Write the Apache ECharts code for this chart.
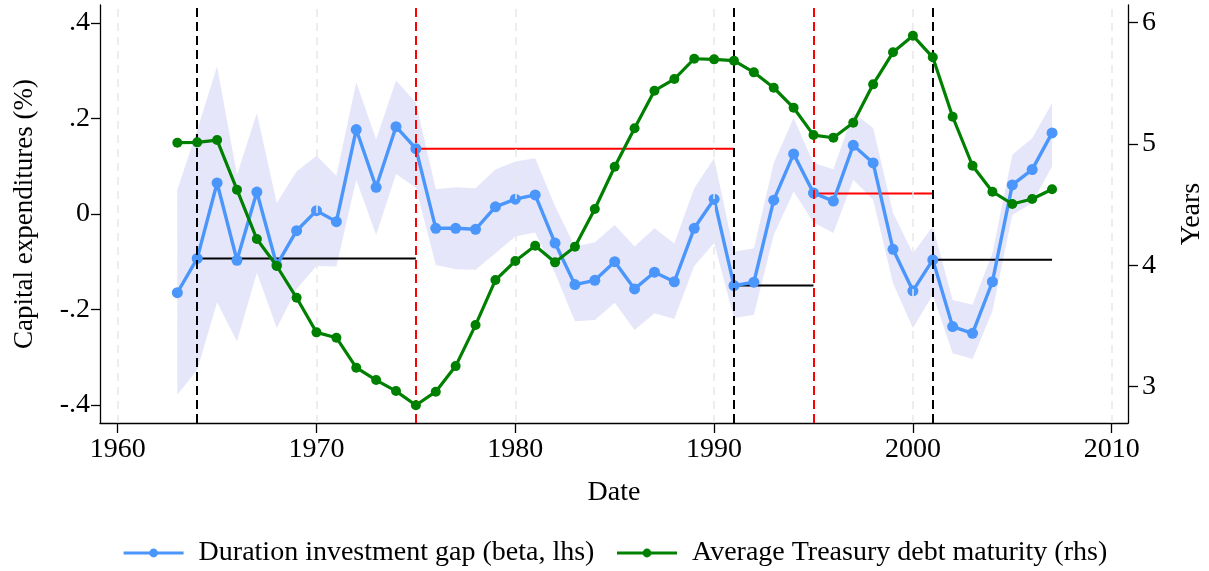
<!DOCTYPE html>
<html><head><meta charset="utf-8">
<script src="https://cdn.jsdelivr.net/npm/echarts@6/dist/echarts.min.js"></script>
<style>html,body{margin:0;padding:0;background:#fff}#c{width:1209px;height:571px}</style>
</head><body><div id="c"></div>
<script>
const years = [1963,1964,1965,1966,1967,1968,1969,1970,1971,1972,1973,1974,1975,1976,1977,1978,1979,1980,1981,1982,1983,1984,1985,1986,1987,1988,1989,1990,1991,1992,1993,1994,1995,1996,1997,1998,1999,2000,2001,2002,2003,2004,2005,2006,2007];
const gapBeta = [-0.165,-0.093,0.065,-0.097,0.046,-0.107,-0.035,0.007,-0.016,0.177,0.056,0.183,0.137,-0.030,-0.030,-0.032,0.015,0.031,0.040,-0.061,-0.148,-0.139,-0.100,-0.157,-0.122,-0.142,-0.030,0.031,-0.150,-0.143,0.029,0.126,0.044,0.027,0.144,0.107,-0.074,-0.161,-0.096,-0.236,-0.250,-0.142,0.061,0.093,0.170];
const gapUpper = [0.051,0.176,0.309,0.082,0.211,0.023,0.089,0.122,0.080,0.276,0.156,0.280,0.233,0.052,0.056,0.054,0.093,0.110,0.117,0.016,-0.068,-0.059,-0.023,-0.068,-0.030,-0.062,0.054,0.117,-0.079,-0.072,0.107,0.201,0.107,0.094,0.212,0.180,0.002,-0.082,-0.026,-0.180,-0.190,-0.082,0.124,0.159,0.232];
const gapLower = [-0.379,-0.327,-0.185,-0.267,-0.123,-0.239,-0.157,-0.109,-0.110,0.072,-0.044,0.084,0.055,-0.107,-0.116,-0.117,-0.082,-0.047,-0.039,-0.124,-0.225,-0.222,-0.186,-0.243,-0.208,-0.220,-0.109,-0.061,-0.218,-0.211,-0.044,0.047,-0.018,-0.040,0.072,0.030,-0.145,-0.239,-0.169,-0.292,-0.304,-0.204,-0.002,0.023,0.100];
const maturity = [5.011,5.014,5.033,4.624,4.217,3.995,3.733,3.448,3.404,3.157,3.055,2.964,2.847,2.959,3.170,3.508,3.879,4.036,4.162,4.025,4.154,4.465,4.813,5.130,5.440,5.536,5.703,5.698,5.687,5.591,5.464,5.299,5.074,5.052,5.176,5.492,5.756,5.893,5.715,5.225,4.821,4.607,4.506,4.547,4.627];
const xTicks = [1960,1970,1980,1990,2000,2010];
const leftTicks = [-0.4,-0.2,0,0.2,0.4];
const rightTicks = [3,4,5,6];
const blackBreaks = [1964,1991,2001];
const redBreaks = [1975,1995];
const segStart = [1964,1975,1991,1995,2001];
const segEnd = [1975,1991,1995,2001,2007];
const segValue = [-0.093,0.137,-0.150,0.043,-0.096];

const FONT = 'Liberation Serif';
const BLUE = '#4a96fb', GREEN = '#008000', RED = '#ff0000', BAND = '#e6e6fa';

const chart = echarts.init(document.getElementById('c'), null, {renderer:'canvas'});
const pair = (a) => years.map((y,i)=>[y,a[i]]);
const series = [];
// confidence band as a polygon through the axis scales
series.push({
  type:'custom', name:'ciBand', silent:true, z:1, clip:true,
  data:[[years[0], gapUpper[0]]],
  renderItem:(params, api)=>{
    const up = years.map((y,i)=>api.coord([y,gapUpper[i]]));
    const lo = years.map((y,i)=>api.coord([y,gapLower[i]])).reverse();
    return {type:'polygon', shape:{points: up.concat(lo)}, style:{fill:BAND}};
  }
});
// grid lines + break lines
series.push({
  type:'line', name:'guides', data:[], silent:true, z:2,
  markLine:{
    silent:true, symbol:['none','none'], label:{show:false},
    data: [
      ...xTicks.map(t=>({xAxis:t, lineStyle:{color:'#e8e8e8', width:1.5, type:[8,6]}})),
      ...blackBreaks.map(t=>({xAxis:t, lineStyle:{color:'#000', width:2, type:[9,5]}})),
      ...redBreaks.map(t=>({xAxis:t, lineStyle:{color:RED, width:2, type:[9,5]}}))
    ]
  }
});
segStart.forEach((s,i)=>{
  series.push({
    type:'line', name:'seg'+i, data:[[s,segValue[i]],[segEnd[i],segValue[i]]],
    symbol:'none', silent:true, z:3,
    lineStyle:{color: redBreaks.includes(s)?RED:'#000', width:2}
  });
});
series.push({
  type:'line', name:'Duration investment gap (beta, lhs)', data: pair(gapBeta),
  symbol:'circle', symbolSize:11, itemStyle:{color:BLUE}, lineStyle:{color:BLUE, width:3.4}, z:4
});
series.push({
  type:'line', name:'Average Treasury debt maturity (rhs)', data: pair(maturity), yAxisIndex:1,
  symbol:'circle', symbolSize:10, itemStyle:{color:GREEN}, lineStyle:{color:GREEN, width:3.2}, z:5
});

const axisTxt = {fontFamily:FONT, fontSize:28, color:'#000'};
chart.setOption({
  animation:false,
  backgroundColor:'#fff',
  grid:{left:100, right:81, top:5, bottom:148, outerBoundsMode:'none', containLabel:false},
  legend:{
    data:['Duration investment gap (beta, lhs)','Average Treasury debt maturity (rhs)'],
    left:122, top:539, padding:0, itemWidth:60, itemHeight:11, itemGap:21,
    lineStyle:{width:3.2},
    textStyle:{fontFamily:FONT, fontSize:28, color:'#000', padding:[0,0,0,10]}
  },
  xAxis:{
    type:'value', min:1959.11, max:2010.82,
    name:'Date', nameLocation:'middle', nameGap:56, nameTextStyle:axisTxt,
    axisLine:{show:true, onZero:false, lineStyle:{color:'#000', width:1.3}},
    axisTick:{show:true, length:10, lineStyle:{color:'#000', width:1.3}, customValues:xTicks},
    axisLabel:{...axisTxt, margin:13, customValues:xTicks, formatter:(v)=>String(v)},
    splitLine:{show:false}
  },
  yAxis:[{
    type:'value', min:-0.438, max:0.438, position:'left',
    name:'Capital expenditures (%)', nameLocation:'middle', nameGap:62, nameTextStyle:{...axisTxt, fontSize:27},
    axisLine:{show:true, onZero:false, lineStyle:{color:'#000', width:1.3}},
    axisTick:{show:true, length:9, lineStyle:{color:'#000', width:1.3}, customValues:leftTicks},
    axisLabel:{...axisTxt, margin:10, customValues:leftTicks,
      formatter:(v)=>{ if (Math.abs(v)<1e-9) return '0'; return String(Math.round(v*10)/10).replace('0.','.'); }},
    splitLine:{show:false}
  },{
    type:'value', min:2.701, max:6.146, position:'right',
    name:'Years', nameLocation:'middle', nameGap:50, nameTextStyle:axisTxt, nameRotate:90,
    axisLine:{show:true, onZero:false, lineStyle:{color:'#000', width:1.3}},
    axisTick:{show:true, length:10, lineStyle:{color:'#000', width:1.3}, customValues:rightTicks},
    axisLabel:{...axisTxt, margin:14, customValues:rightTicks, formatter:(v)=>String(v)},
    splitLine:{show:false}
  }],
  series
});
</script></body></html>
